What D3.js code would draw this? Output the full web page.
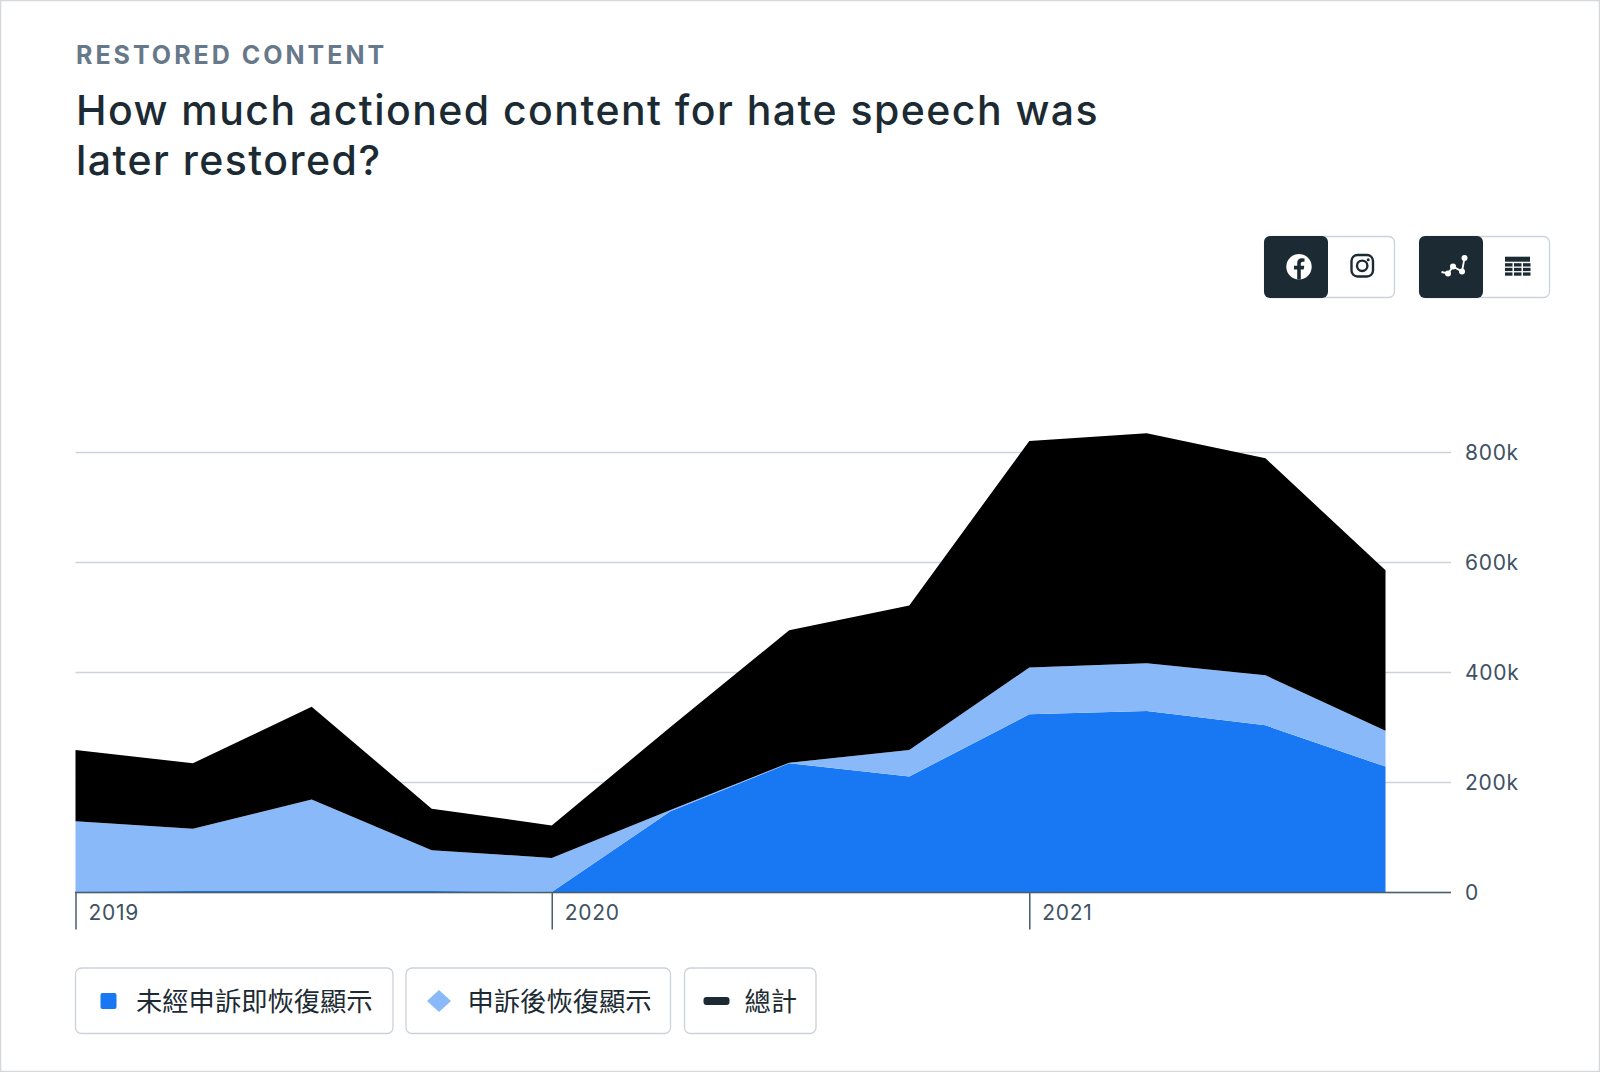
<!DOCTYPE html>
<html><head><meta charset="utf-8">
<script src="https://cdn.jsdelivr.net/npm/d3@7"></script>
<style>html,body{margin:0;padding:0;background:#fff}svg{display:block}</style>
</head><body><div id="c"></div>
<script>
const quarters=["2019-01-01","2019-04-01","2019-07-01","2019-10-01","2020-01-01","2020-04-01","2020-07-01","2020-10-01","2021-01-01","2021-04-01","2021-07-01","2021-10-01"];
const noAppeal=[1,2,2,2,0,147,234,210,323,329,303,228];
const afterAppeal=[127.5,113,166,74,62,2,1,48,85,87,91,65];
const totals=[129.5,119,169,75.5,59,151,241,263,412,418,394.5,292];
const yearTicks=["2019-01-01","2020-01-01","2021-01-01"];
const yTicks=[0,200,400,600,800];
const legendLabels=["未經申訴即恢復顯示","申訴後恢復顯示","總計"];
const eyebrow="RESTORED CONTENT";
const titleLines=["How much actioned content for hate speech was","later restored?"];

const W=1600,H=1072;
const ink="#1C2B33",muted="#3E5263",rule="#CBD2D9",blue="#1877F2",light="#8AB9F9";
const sans="Inter, 'Noto Sans CJK TC', sans-serif";
const svg=d3.select("#c").append("svg").attr("width",W).attr("height",H);
svg.append("rect").attr("x",.5).attr("y",.5).attr("width",W-1).attr("height",H-1).attr("fill","#fff").attr("stroke","#D4D8DC").attr("stroke-width",1.5);

svg.append("text").text(eyebrow).attr("x",76).attr("y",63.5).attr("font-family",sans).attr("font-size",25).attr("font-weight",700).attr("letter-spacing",3).attr("fill","#67788A");
svg.selectAll(".t").data(titleLines).join("text").attr("class","t").text(d=>d).attr("x",76).attr("y",(d,i)=>125+i*50).attr("font-family",sans).attr("font-size",41).attr("font-weight",500).attr("letter-spacing",1.45).attr("fill",ink);

const date=d=>new Date(d+"T00:00:00Z");
const x=d3.scaleUtc().domain([date(quarters[0]),date(quarters[quarters.length-1])]).range([75.5,1385.5]);
const y=d3.scaleLinear().domain([0,800]).range([892,452]);

const rows=quarters.map((q,i)=>({q:date(q),noAppeal:noAppeal[i],afterAppeal:afterAppeal[i],total:totals[i]}));
const series=d3.stack().keys(["noAppeal","afterAppeal","total"])(rows);
const colors={noAppeal:blue,afterAppeal:light,total:"#000"};

const yAxis=svg.append("g").attr("transform","translate(1451,0)").call(d3.axisLeft(y).tickValues(yTicks).tickSize(1375.5).tickFormat(d=>d?d+"k":"0"));
yAxis.select(".domain").remove();
yAxis.selectAll(".tick line").attr("stroke",rule).attr("stroke-width",1.5);
yAxis.selectAll(".tick text").attr("x",14).attr("text-anchor","start").attr("dy",".35em").attr("font-family",sans).attr("font-size",21).attr("letter-spacing",.7).attr("fill",muted);

const area=d3.area().x(d=>x(d.data.q)).y0(d=>y(d[0])).y1(d=>y(d[1]));
svg.append("g").selectAll("path").data(series).join("path").attr("d",area).attr("fill",d=>colors[d.key]);

const xAxis=svg.append("g").attr("transform","translate(0,892)").call(d3.axisBottom(x).tickValues(yearTicks.map(date)).tickSize(37.5).tickFormat(d=>d.getUTCFullYear()));
xAxis.select(".domain").remove();
xAxis.selectAll(".tick line").attr("stroke","#4A5D6C").attr("stroke-width",1.5);
xAxis.selectAll(".tick text").attr("x",12.5).attr("y",13).attr("dy",".71em").attr("text-anchor","start").attr("font-family",sans).attr("font-size",21).attr("letter-spacing",.7).attr("fill",muted);
svg.append("line").attr("x1",75).attr("x2",1451).attr("y1",892.5).attr("y2",892.5).attr("stroke","#4A5D6C").attr("stroke-width",1.5);

const lg=[{x:75.5,w:317.5},{x:406,w:264.5},{x:684.5,w:131.5}];
const lgG=svg.append("g").selectAll("g").data(legendLabels).join("g").attr("transform",(d,i)=>`translate(${lg[i].x},968)`);
lgG.append("rect").attr("width",(d,i)=>lg[i].w).attr("height",65.5).attr("rx",6).attr("fill","#fff").attr("stroke",rule).attr("stroke-width",1.3);
lgG.append("text").text(d=>d).attr("x",(d,i)=>[60.5,61.5,60][i]).attr("y",43).attr("font-family","'Noto Sans CJK TC', sans-serif").attr("font-size",26.3).attr("fill",ink);
lgG.filter((d,i)=>i==0).append("rect").attr("x",25).attr("y",25).attr("width",16).attr("height",16).attr("rx",2).attr("fill",blue);
lgG.filter((d,i)=>i==1).append("path").attr("d","M33 22L45 33L33 44L21 33Z").attr("fill",light);
lgG.filter((d,i)=>i==2).append("rect").attr("x",19).attr("y",29).attr("width",26).attr("height",8).attr("rx",3).attr("fill",ink);

function toggle(x0){
  const g=svg.append("g").attr("transform",`translate(${x0},236)`);
  g.append("rect").attr("x",.5).attr("y",.5).attr("width",130).attr("height",61).attr("rx",6).attr("fill","#fff").attr("stroke",rule).attr("stroke-width",1.3);
  g.append("rect").attr("width",64).attr("height",62).attr("rx",6).attr("fill",ink);
  return g;
}
const t1=toggle(1264);
t1.append("circle").attr("cx",35).attr("cy",30.7).attr("r",12.7).attr("fill","#fff");
t1.append("path").attr("d","M33.2 43.5V33.5H30V29.700H33.200V27C33.200 23.800 35 22.200 37.800 22.200L40.500 22.500V25.800H39C37.500 25.800 36.800 26.600 36.800 28V29.700H40.300L39.700 33.500H36.800V43.500Z").attr("fill",ink);
t1.append("rect").attr("x",87.5).attr("y",19).attr("width",21.5).attr("height",21.5).attr("rx",6).attr("fill","none").attr("stroke",ink).attr("stroke-width",2.4);
t1.append("circle").attr("cx",98.2).attr("cy",29.8).attr("r",5.2).attr("fill","none").attr("stroke",ink).attr("stroke-width",2.4);
t1.append("circle").attr("cx",104.2).attr("cy",23.800).attr("r",1.5).attr("fill",ink);
const t2=toggle(1419);
t2.append("path").attr("d","M22.500 36L29 37.500L34 30.500L43 35.500L45.500 22").attr("fill","none").attr("stroke","#fff").attr("stroke-width",1.8);
[[29,37.5],[34,30.5],[43,35.5],[45.5,22]].forEach(p=>t2.append("circle").attr("cx",p[0]).attr("cy",p[1]).attr("r",3).attr("fill","#fff"));
t2.append("rect").attr("x",86).attr("y",20.700).attr("width",25).attr("height",5).attr("fill",ink);
[27.2,31.8,36.4].forEach(yy=>[86,95,104].forEach(xx=>t2.append("rect").attr("x",xx).attr("y",yy).attr("width",7.5).attr("height",3.3).attr("fill",ink)));
</script></body></html>
